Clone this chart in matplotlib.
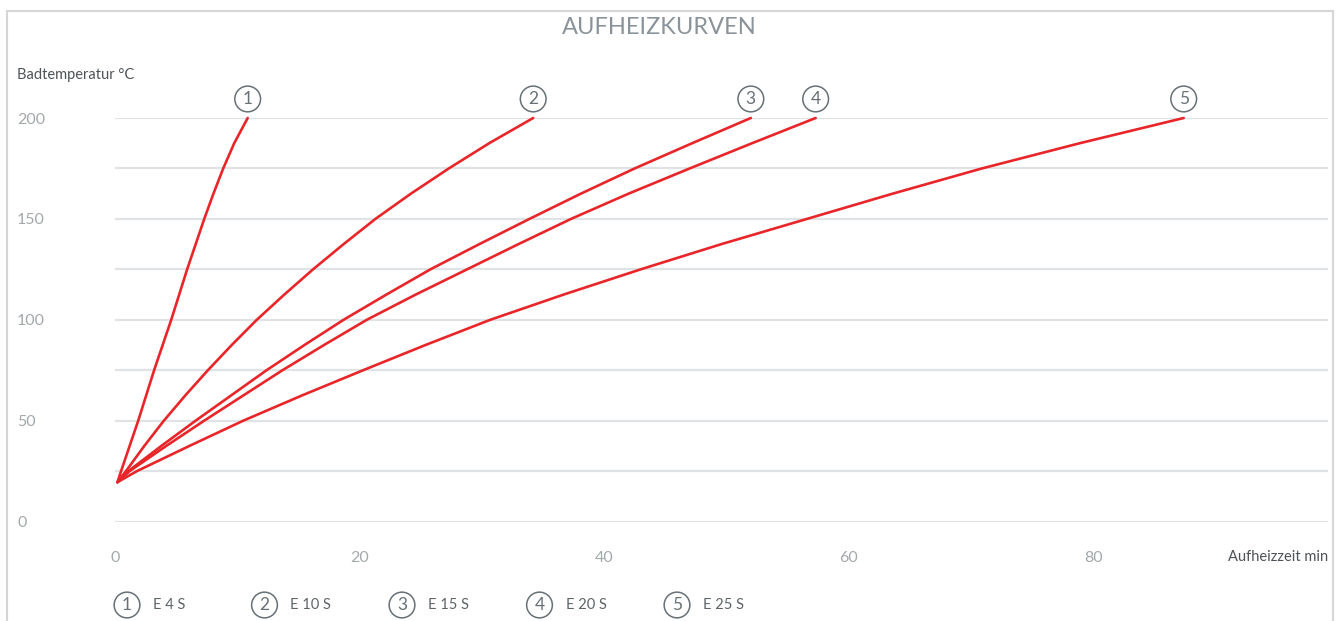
import numpy as np
import matplotlib.pyplot as plt
from matplotlib.patches import Rectangle

plt.rcParams['font.family'] = ['Lato', 'DejaVu Sans']

## Data (time in min, bath temperature in °C)
models = ["E 4 S", "E 10 S", "E 15 S", "E 20 S", "E 25 S"]
temps = [19.5, 25, 37.5, 50, 62.5, 75, 87.5, 100, 112.5, 125, 137.5, 150,
         162.5, 175, 187.5, 200]
time_e4 = [0.2, 0.5, 1.2, 1.9, 2.55, 3.2, 3.9, 4.6, 5.25, 5.9, 6.6, 7.3,
           8.05, 8.85, 9.75, 10.85]
time_e10 = [0.2, 0.9, 2.4, 4.0, 5.75, 7.6, 9.55, 11.6, 13.85, 16.2, 18.7, 21.3,
            24.2, 27.3, 30.6, 34.2]
time_e15 = [0.2, 1.1, 3.8, 6.6, 9.5, 12.4, 15.5, 18.7, 22.2, 25.8, 29.8, 33.9,
            38.1, 42.5, 47.2, 52.0]
time_e20 = [0.2, 1.2, 4.2, 7.3, 10.5, 13.7, 17.1, 20.6, 24.6, 28.8, 33.0, 37.3,
            42.0, 47.0, 52.1, 57.3]
time_e25 = [0.2, 1.8, 6.1, 10.5, 15.3, 20.3, 25.4, 30.7, 36.7, 43.0, 49.6, 56.6,
            63.6, 70.9, 78.9, 87.4]
curves = [time_e4, time_e10, time_e15, time_e20, time_e25]

x_ticks = [0, 20, 40, 60, 80]
y_ticks = [0, 25, 50, 75, 100, 125, 150, 175, 200]
y_labels = ["0", "", "50", "", "100", "", "150", "", "200"]

red = "#e8262a"
grey_txt = "#a3a8ab"
dark_txt = "#4d5357"
circ = "#667075"

W, H = 1341, 621
fig = plt.figure(figsize=(W / 100, H / 100), dpi=100)
ax = fig.add_axes([115 / W, 1 - 521.5 / H, (1328 - 115) / W, (521.5 - 118) / H])
ax.set_xlim(0, 99.2)
ax.set_ylim(0, 200)
for s in ax.spines.values():
    s.set_visible(False)

ax.set_yticks(y_ticks)
ax.set_yticklabels(y_labels)
ax.grid(axis="y", color="#dfe3e6", lw=1.6)
ax.set_axisbelow(True)
ax.tick_params(axis="y", length=0, pad=70.5, labelsize=11.5, labelcolor=grey_txt)
for lab in ax.get_yticklabels():
    lab.set_horizontalalignment("left")
ax.set_xticks(x_ticks)
ax.tick_params(axis="x", length=0, pad=21, labelsize=11.5, labelcolor=grey_txt)

for i, t in enumerate(curves):
    ax.plot(t, temps, color=red, lw=1.9, solid_capstyle="round",
            solid_joinstyle="round", clip_on=False)
    ax.annotate(str(i + 1), xy=(t[-1], temps[-1]), xytext=(0, 13.7),
                textcoords="offset points", ha="center", va="center",
                fontsize=12.5, color=circ,
                bbox=dict(boxstyle="circle,pad=0.28", fc="white", ec=circ, lw=1.1))

fig.text(659 / W, 1 - 27 / H, "AUFHEIZKURVEN", ha="center", va="center",
         fontsize=17, color="#8a9399")
fig.text(17 / W, 1 - 75 / H, "Badtemperatur °C", va="center",
         fontsize=10.5, color=dark_txt)
fig.text(1328 / W, 1 - 557 / H, "Aufheizzeit min", ha="right", va="center",
         fontsize=10.5, color=dark_txt)

# legend row at the bottom
for i, name in enumerate(models):
    x0 = 127 + 137.5 * i
    fig.text(x0 / W, 1 - 605 / H, str(i + 1), ha="center", va="center",
             fontsize=12.5, color=circ,
             bbox=dict(boxstyle="circle,pad=0.28", fc="white", ec=circ, lw=1.1))
    fig.text((x0 + 26) / W, 1 - 605 / H, name, va="center",
             fontsize=10.5, color="#5d6468")

fig.add_artist(Rectangle((7 / W, -0.1), (1333 - 7) / W, 1.1 - 10.5 / H,
                         transform=fig.transFigure, fill=False,
                         ec="#d6d6d6", lw=1.5))

fig.savefig("out.png", dpi=100)
